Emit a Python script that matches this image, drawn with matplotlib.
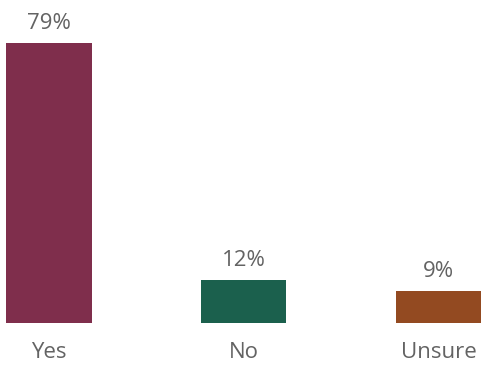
import matplotlib.pyplot as plt

categories = ["Yes", "No", "Unsure"]
values = [79, 12, 9]
colors = ["#7F2E4C", "#1B604D", "#934A21"]

fig = plt.figure(figsize=(4.87, 3.65), dpi=100)
ax = fig.add_axes([0, 42/365, 1, 323/365])

x = range(len(categories))
bars = ax.bar(x, values, width=0.437, color=colors)

for b, v in zip(bars, values):
    ax.text(b.get_x() + b.get_width()/2, v + 2.6, f"{v}%", ha="center", va="bottom",
            fontsize=16, color="#636363", family="Open Sans")

ax.set_xlim(-0.2517, 2.249)
ax.set_ylim(0, 91.1)
ax.set_xticks(list(x))
ax.set_xticklabels(categories, fontsize=16, color="#636363", family="Open Sans")
ax.tick_params(axis="x", length=0, pad=14)
ax.set_yticks([])
for s in ax.spines.values():
    s.set_visible(False)

fig.savefig("out.png", dpi=100)
